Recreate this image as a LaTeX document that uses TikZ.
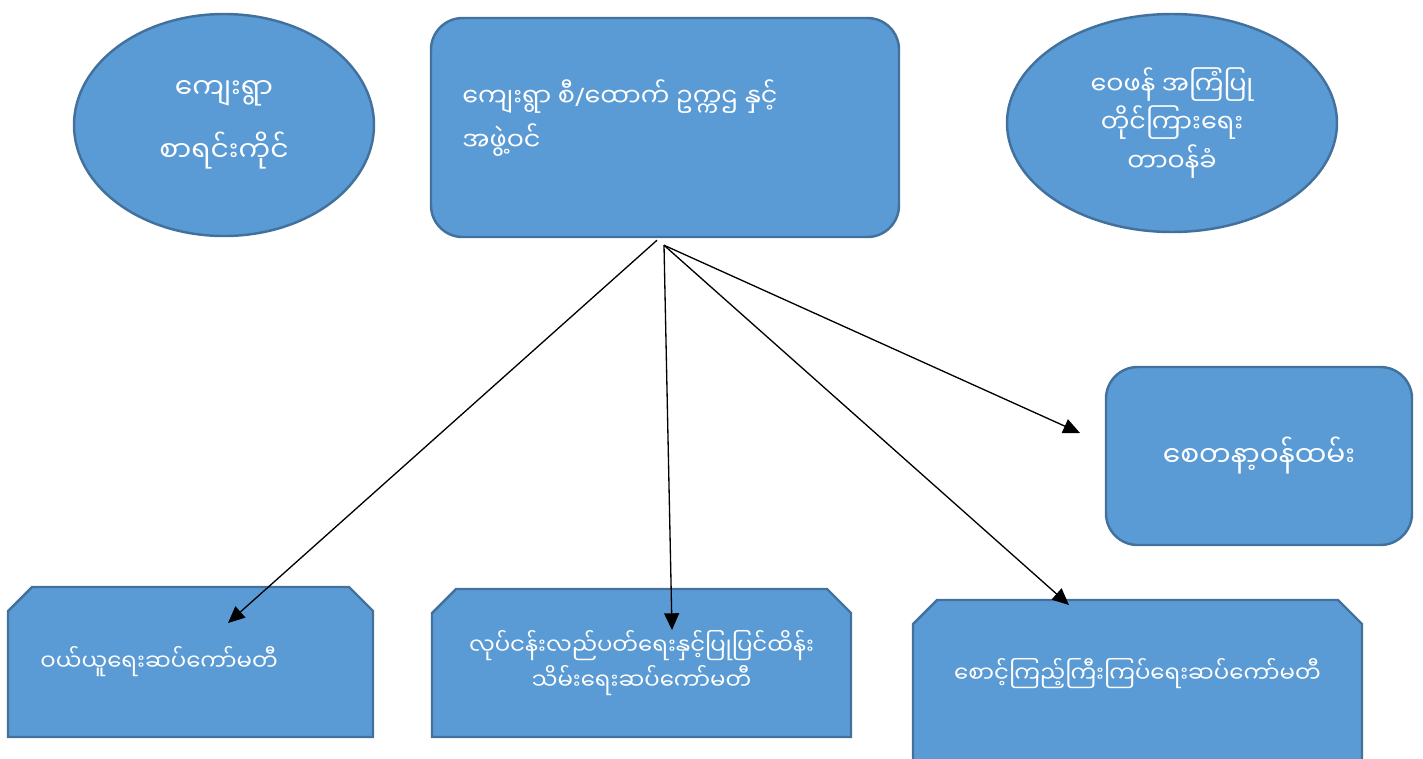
\documentclass[tikz,border=0pt]{standalone}
\usepackage{fontspec}
\newfontfamily\mmfont[Script=Myanmar]{Noto Sans Myanmar UI}
\newfontfamily\latinfont{Noto Sans}
\usetikzlibrary{positioning,shapes.geometric,arrows.meta,backgrounds}
\definecolor{boxfill}{HTML}{5B9BD5}
\definecolor{boxline}{HTML}{41719C}
\newdimen\pxu \pxu=0.02cm
\tikzset{
  pointer/.style={-{Triangle[length=9.5pt,width=8.5pt]}, draw, black, line width=0.75pt},
}
% outline with the two top corners snipped off
\newcommand\snipboard[1]{%
  \draw[draw=boxline, fill=boxfill, line width=1.4pt] (#1.south west) -- ([yshift=-24\pxu]#1.north west) -- ([xshift=24\pxu]#1.north west) -- ([xshift=-24\pxu]#1.north east) -- ([yshift=-24\pxu]#1.north east) -- (#1.south east) -- cycle;}

\begin{document}
\begin{tikzpicture}[x=0.02cm,y=-0.02cm,
            every node/.style={font=\mmfont\fontsize{16}{22}\selectfont, text=white},
            mid text/.style={font=\mmfont\fontsize{14.5}{22}\selectfont},
            low text/.style={font=\mmfont\fontsize{13}{20}\selectfont},
            blob/.style={ellipse, draw=boxline, fill=boxfill, line width=1.4pt, align=center, inner sep=0pt},
            card/.style={rectangle, rounded corners=18pt, draw=boxline, fill=boxfill, line width=1.4pt},
            board/.style={rectangle, low text, inner sep=0pt, outer sep=0pt}]
            \useasboundingbox (0,0) rectangle (1423,758);

            % top row
            \node[blob, minimum width=300\pxu, minimum height=222\pxu] (clerk) at (224,125) {ကျေးရွာ\\[14pt] စာရင်းကိုင်};
            \node[card, minimum width=468\pxu, minimum height=219\pxu] (head) at (665,127.5) {};
            \node[mid text, anchor=west, align=left, inner sep=0pt] (head text) at (462,118) {ကျေးရွာ စီ{\latinfont/}ထောက် ဥက္ကဌ နှင့်\\[3pt] အဖွဲ့ဝင်};
            \node[blob, mid text, minimum width=330\pxu, minimum height=218\pxu] (review) at (1172,123) {ဝေဖန် အကြံပြု\\ တိုင်ကြားရေး\\ တာဝန်ခံ};
            \node[card, minimum width=306\pxu, minimum height=178\pxu] (volunteer) at (1259,456) {စေတနာ့ဝန်ထမ်း};

            % bottom row
            \node[board, minimum width=365\pxu, minimum height=150\pxu, text width=300\pxu, align=left] (buy) at (190.5,662) {ဝယ်ယူရေးဆပ်ကော်မတီ};
            \node[board, minimum width=419\pxu, minimum height=148\pxu, align=center] (ops) at (641.5,663) {လုပ်ငန်းလည်ပတ်ရေးနှင့်ပြုပြင်ထိန်း\\ သိမ်းရေးဆပ်ကော်မတီ};
            \node[board, minimum width=449\pxu, minimum height=170\pxu, text depth=30\pxu] (watch) at (1137.5,685) {စောင့်ကြည့်ကြီးကြပ်ရေးဆပ်ကော်မတီ};
            \begin{scope}[on background layer]
              \snipboard{buy}
              \snipboard{ops}
              \snipboard{watch}
            \end{scope}

            \coordinate (root a) at ([shift={(-8,2)}]head.south);
            \coordinate (root b) at ([shift={(-1,7)}]head.south);
            \coordinate (buy tip) at (228,623);
            \coordinate (ops tip) at (672,630);
            \coordinate (watch tip) at (1069,605);
            \coordinate (volunteer tip) at (1080,433);

            \draw [pointer] (root a) to (buy tip);
            \draw [pointer] (root b) to (ops tip);
            \draw [pointer] (root b) to (watch tip);
            \draw [pointer] (root b) to (volunteer tip);
         \end{tikzpicture}
\end{document}
